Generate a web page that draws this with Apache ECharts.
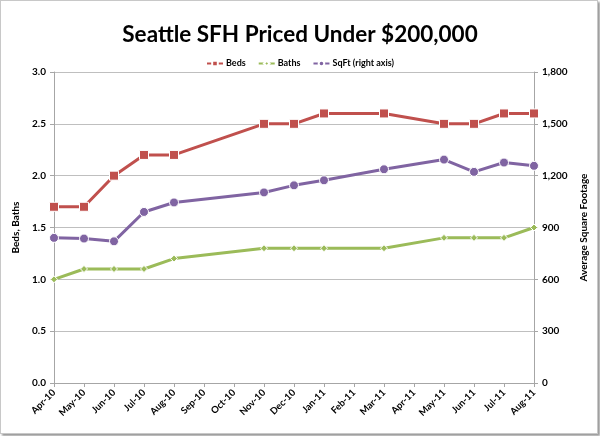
<!DOCTYPE html>
<html><head><meta charset="utf-8">
<script src="https://cdn.jsdelivr.net/npm/echarts@6/dist/echarts.min.js"></script>
<style>
html,body{margin:0;padding:0;background:#fff;}
#frame{position:absolute;left:0;top:0;width:596px;height:432px;border:1px solid #c8c8c8;box-shadow:2px 2px 2px #9a9a9a;background:#fff;}
#c{width:600px;height:436px;position:absolute;left:0;top:0;}
</style></head>
<body>
<div id="frame"></div>
<div id="c"></div>
<script>
const months = ['Apr-10','May-10','Jun-10','Jul-10','Aug-10','Sep-10','Oct-10','Nov-10','Dec-10','Jan-11','Feb-11','Mar-11','Apr-11','May-11','Jun-11','Jul-11','Aug-11'];
const beds  = [1.7, 1.7, 2.0, 2.2, 2.2, null, null, 2.5, 2.5, 2.6, null, 2.6, null, 2.5, 2.5, 2.6, 2.6];
const baths = [1.0, 1.1, 1.1, 1.1, 1.2, null, null, 1.3, 1.3, 1.3, null, 1.3, null, 1.4, 1.4, 1.4, 1.5];
const sqft  = [840, 836, 820, 990, 1045, null, null, 1103, 1144, 1173, null, 1237, null, 1293, 1222, 1276, 1257];

const FONT = 'Lato';
const chart = echarts.init(document.getElementById('c'), null, {renderer:'canvas'});
const lbl = {fontFamily:FONT, fontWeight:'bold', fontSize:10, color:'#000'};
const grayLine = {lineStyle:{color:'#a6a6a6', width:1}};
function ser(name, data, color, symbol, size, yIdx){
  return {name, type:'line', data, yAxisIndex:yIdx, connectNulls:true,
    symbol, symbolSize:size, showAllSymbol:true,
    lineStyle:{color, width:3},
    itemStyle:{color, borderColor:'#ffffff', borderWidth:1},
    emphasis:{disabled:true}, animation:false};
}
chart.setOption({
  animation:false,
  title:{text:'Seattle SFH Priced Under $200,000', left:'center', top:18,
    textStyle:{fontFamily:FONT, fontWeight:'bold', fontSize:22.5, color:'#000'}},
  legend:{top:54, left:'center', itemWidth:16, itemHeight:7, itemGap:12,
    textStyle:{fontFamily:FONT, fontWeight:'bold', fontSize:9, color:'#000', padding:[0,0,0,-2]},
    data:['Beds','Baths','SqFt (right axis)']},
  grid:{left:54, right:66, top:72, bottom:53},
  xAxis:{type:'category', data:months, boundaryGap:false,
    axisLine:grayLine, axisTick:{show:true, length:4, lineStyle:{color:'#a6a6a6'}},
    axisLabel:Object.assign({}, lbl, {rotate:45, interval:0, margin:8, fontSize:9.5}),
    splitLine:{show:false}},
  yAxis:[
    {type:'value', min:0, max:3, interval:0.5, name:'Beds, Baths', nameLocation:'middle', nameGap:29, nameRotate:90,
     nameTextStyle:{fontFamily:FONT, fontWeight:'bold', fontSize:10, color:'#000'},
     axisLine:{show:true, lineStyle:{color:'#a6a6a6'}}, axisTick:{show:true, length:4, lineStyle:{color:'#a6a6a6'}},
     axisLabel:Object.assign({}, lbl, {formatter:v=>v.toFixed(1), margin:8}),
     splitLine:{show:true, lineStyle:{color:'#bfbfbf', width:1}}},
    {type:'value', min:0, max:1800, interval:300, position:'right', name:'Average Square Footage', nameLocation:'middle', nameGap:44, nameRotate:90,
     nameTextStyle:{fontFamily:FONT, fontWeight:'bold', fontSize:10, color:'#000'},
     axisLine:{show:true, lineStyle:{color:'#a6a6a6'}}, axisTick:{show:true, length:4, lineStyle:{color:'#a6a6a6'}},
     axisLabel:Object.assign({}, lbl, {formatter:v=>v.toLocaleString('en-US'), margin:8}),
     splitLine:{show:false}}
  ],
  series:[
    ser('Beds', beds, '#C0504D', 'rect', 9, 0),
    ser('Baths', baths, '#9BBB59', 'diamond', 7, 0),
    ser('SqFt (right axis)', sqft, '#8064A2', 'circle', 9, 1)
  ]
});
</script>
</body></html>
